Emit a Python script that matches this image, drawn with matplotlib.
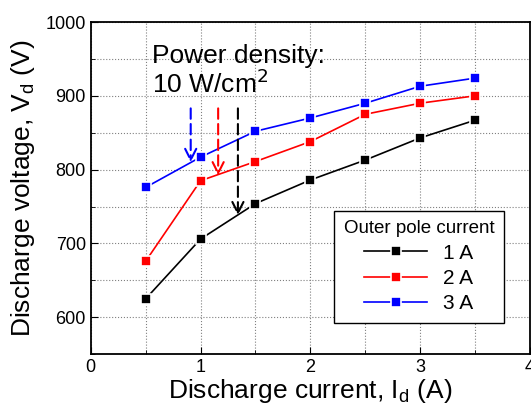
import matplotlib.pyplot as plt
from matplotlib.ticker import MultipleLocator

plt.rcParams['font.family'] = ['Liberation Sans', 'DejaVu Sans']

current = [0.5, 1.0, 1.5, 2.0, 2.5, 3.0, 3.5]
v_1A = [625, 706, 754, 786, 813, 843, 867]
v_2A = [676, 785, 811, 838, 875, 890, 900]
v_3A = [776, 817, 852, 870, 890, 913, 924]

# arrows marking 10 W/cm^2: (x, y start, y end)
arrows = [(0.91, 883, 810, "blue"), (1.16, 883, 792, "red"), (1.34, 883, 738, "black")]

fig = plt.figure(figsize=(5.31, 4.08), dpi=100)
ax = fig.add_axes([0.171, 0.132, 0.827, 0.814])

for v, c, lab in [(v_1A, "black", "1 A"), (v_2A, "red", "2 A"), (v_3A, "blue", "3 A")]:
    ax.plot(current, v, "-s", color=c, lw=1.2, ms=7, mec="white", mew=1.2,
            markerfacecolor=c, label=lab)

for x, y0, y1, c in arrows:
    ax.annotate("", xy=(x, y1), xytext=(x, y0),
                arrowprops=dict(arrowstyle="->", color=c, lw=1.5, ls=(0, (5, 2.5)),
                                mutation_scale=20, shrinkA=0, shrinkB=0))

ax.text(0.14, 0.935, "Power density:\n10 W/cm$^2$", transform=ax.transAxes,
        fontsize=19, va="top", ha="left", linespacing=1.1)

ax.set_xlim(0, 4)
ax.set_ylim(550, 1000)
ax.xaxis.set_major_locator(MultipleLocator(1))
ax.xaxis.set_minor_locator(MultipleLocator(0.5))
ax.yaxis.set_major_locator(MultipleLocator(100))
ax.yaxis.set_minor_locator(MultipleLocator(50))
ax.tick_params(which="both", direction="in", labelsize=13)
ax.tick_params(which="major", length=5)
ax.tick_params(which="minor", length=3)
ax.grid(True, which="both", color="gray", ls=":", lw=0.8)
for s in ax.spines.values():
    s.set_linewidth(1.3)

ax.set_xlabel("Discharge current, I$_\\mathregular{d}$ (A)", fontsize=19, labelpad=1)
ax.set_ylabel("Discharge voltage, V$_\\mathregular{d}$ (V)", fontsize=19, labelpad=6)

leg = ax.legend(title="Outer pole current", loc="lower right",
                bbox_to_anchor=(0.94, 0.095), borderaxespad=0,
                fontsize=15, title_fontsize=13.5,
                fancybox=False, edgecolor="black", framealpha=1,
                handlelength=3.0, borderpad=0.45, labelspacing=0.3)
leg.get_frame().set_linewidth(1.0)

fig.savefig("out.png", dpi=100)
plt.close()
